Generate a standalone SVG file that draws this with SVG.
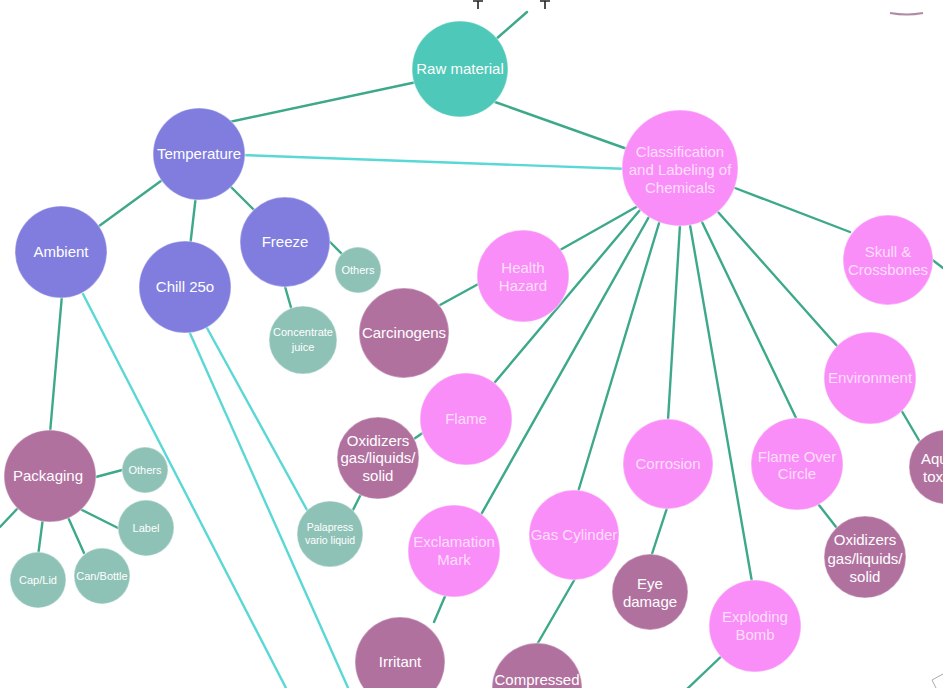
<svg xmlns="http://www.w3.org/2000/svg" width="943" height="688" viewBox="0 0 943 688">
<style>
.e{stroke:#3ea98a;stroke-width:2.4;fill:none;stroke-linecap:round}
.c{stroke:#5ad8d5;stroke-width:2.4;fill:none;stroke-linecap:round}
.teal{fill:#4ec8b8}
.pur{fill:#807ddf}
.pink{fill:#fa8ef8}
.mauve{fill:#b1719f}
.grey{fill:#8ec2b6}
circle{stroke:#ffffff;stroke-opacity:0.35;stroke-width:1.5}
text{font-family:"Liberation Sans",Arial,sans-serif;fill:#ffffff;text-anchor:middle;font-size:15px}
.pink ~ text{fill-opacity:0.72}
.s{font-size:11px}
.xs{font-size:10.5px}
</style>
<rect width="943" height="688" fill="#ffffff"/>
<g id="marks">
<path d="M473 1 H483 M478 1 V9 M540 1 H550 M545 1 V9" stroke="#222" stroke-width="1.6" fill="none"/>
<path d="M890 13 Q907 16 923 13" stroke="#9a6f92" stroke-width="2" fill="none" opacity="0.8"/>
<circle cx="938" cy="660" r="2.2" fill="none" stroke="#aaa" stroke-opacity="1" stroke-width="1"/>
<path d="M943 674 L932 680 L936 688" stroke="#aaa" stroke-width="1" fill="none"/>
</g>
<g id="connectors">
<line class="c" x1="240" y1="155" x2="630" y2="169"/>
<line class="c" x1="83" y1="294" x2="287" y2="690"/>
<line class="c" x1="189" y1="331" x2="349" y2="690"/>
<line class="c" x1="207" y1="328" x2="307" y2="510"/>
<line class="e" x1="440" y1="77" x2="220" y2="124"/>
<line class="e" x1="495" y1="102" x2="630" y2="150"/>
<line class="e" x1="495" y1="40" x2="527" y2="12"/>
<line class="e" x1="165" y1="178" x2="95" y2="229"/>
<line class="e" x1="196" y1="195" x2="190" y2="247"/>
<line class="e" x1="228" y1="184" x2="256" y2="212"/>
<line class="e" x1="326" y1="238" x2="346" y2="258"/>
<line class="e" x1="284" y1="283" x2="292" y2="311"/>
<line class="e" x1="62" y1="295" x2="50" y2="433"/>
<line class="e" x1="92" y1="478" x2="126" y2="469"/>
<line class="e" x1="80" y1="509" x2="122" y2="530"/>
<line class="e" x1="67" y1="515" x2="84" y2="553"/>
<line class="e" x1="43" y1="518" x2="38" y2="556"/>
<line class="e" x1="18" y1="508" x2="0" y2="527"/>
<line class="e" x1="482" y1="282" x2="440" y2="305"/>
<line class="e" x1="638" y1="206" x2="560" y2="250"/>
<line class="e" x1="640" y1="210" x2="490" y2="388"/>
<line class="e" x1="650" y1="215" x2="478" y2="520"/>
<line class="e" x1="660" y1="220" x2="578" y2="492"/>
<line class="e" x1="680" y1="225" x2="668" y2="420"/>
<line class="e" x1="690" y1="225" x2="752" y2="582"/>
<line class="e" x1="702" y1="222" x2="797" y2="420"/>
<line class="e" x1="718" y1="212" x2="838" y2="347"/>
<line class="e" x1="735" y1="188" x2="850" y2="232"/>
<line class="e" x1="930" y1="258" x2="943" y2="268"/>
<line class="e" x1="900" y1="408" x2="920" y2="442"/>
<line class="e" x1="815" y1="500" x2="840" y2="532"/>
<line class="e" x1="668" y1="505" x2="650" y2="560"/>
<line class="e" x1="424" y1="432" x2="408" y2="443"/>
<line class="e" x1="362" y1="492" x2="352" y2="512"/>
<line class="e" x1="446" y1="594" x2="434" y2="622"/>
<line class="e" x1="576" y1="577" x2="535" y2="648"/>
<line class="e" x1="728" y1="650" x2="686" y2="690"/>
</g>
<g id="raw-material"><circle class="teal" cx="460" cy="69" r="48"/><text x="460" y="74" font-size="14.5">Raw material</text></g>
<g id="temperature"><circle class="pur" cx="199" cy="154" r="46"/><text x="199" y="159">Temperature</text></g>
<g id="ambient"><circle class="pur" cx="61" cy="252" r="46"/><text x="61" y="257">Ambient</text></g>
<g id="chill"><circle class="pur" cx="185" cy="287" r="46"/><text x="185" y="292">Chill 25o</text></g>
<g id="freeze"><circle class="pur" cx="285" cy="242" r="45"/><text x="285" y="247">Freeze</text></g>
<g id="freeze-others"><circle class="grey" cx="358" cy="270" r="23"/><text class="s" x="358" y="274">Others</text></g>
<g id="concentrate-juice"><circle class="grey" cx="303" cy="340" r="34"/><text class="s" x="303" y="336">Concentrate</text><text class="s" x="303" y="351">juice</text></g>
<g id="packaging"><circle class="mauve" cx="50" cy="476" r="46"/><text x="48" y="481" font-size="15.5">Packaging</text></g>
<g id="packaging-others"><circle class="grey" cx="145" cy="470" r="23"/><text class="s" x="145" y="474">Others</text></g>
<g id="label"><circle class="grey" cx="146" cy="528" r="28"/><text class="s" x="146" y="532">Label</text></g>
<g id="can-bottle"><circle class="grey" cx="102" cy="576" r="28"/><text class="s" x="102" y="580">Can/Bottle</text></g>
<g id="cap-lid"><circle class="grey" cx="38" cy="580" r="28"/><text class="s" x="38" y="584">Cap/Lid</text></g>
<g id="palapress"><circle class="grey" cx="330" cy="534" r="33"/><text class="xs" x="330" y="531">Palapress</text><text class="xs" x="330" y="544">vario liquid</text></g>
<g id="classification"><circle class="pink" cx="680" cy="168" r="58"/><text x="680" y="157" font-size="14.5">Classification</text><text x="680" y="175" font-size="14.5">and Labeling of</text><text x="680" y="193" font-size="14.5">Chemicals</text></g>
<g id="health-hazard"><circle class="pink" cx="523" cy="276" r="46"/><text x="523" y="273">Health</text><text x="523" y="291">Hazard</text></g>
<g id="carcinogens"><circle class="mauve" cx="404" cy="333" r="45"/><text x="404" y="338" font-size="15.5">Carcinogens</text></g>
<g id="flame"><circle class="pink" cx="466" cy="419" r="46"/><text x="466" y="424">Flame</text></g>
<g id="oxidizers-left"><circle class="mauve" cx="378" cy="458" r="41"/><text x="378" y="446">Oxidizers</text><text x="378" y="463">gas/liquids/</text><text x="378" y="481">solid</text></g>
<g id="skull"><circle class="pink" cx="888" cy="260" r="45"/><text x="888" y="257">Skull &amp;</text><text x="888" y="275">Crossbones</text></g>
<g id="environment"><circle class="pink" cx="870" cy="378" r="46"/><text x="870" y="383">Environment</text></g>
<g id="aquatic"><circle class="mauve" cx="946" cy="467" r="37"/><text x="946" y="464">Aquatic</text><text x="946" y="482">toxicity</text></g>
<g id="corrosion"><circle class="pink" cx="668" cy="464" r="45"/><text x="668" y="469">Corrosion</text></g>
<g id="flame-over-circle"><circle class="pink" cx="797" cy="464" r="46"/><text x="797" y="462">Flame Over</text><text x="797" y="479">Circle</text></g>
<g id="oxidizers-right"><circle class="mauve" cx="865" cy="557" r="41"/><text x="865" y="545">Oxidizers</text><text x="865" y="564">gas/liquids/</text><text x="865" y="582">solid</text></g>
<g id="exclamation"><circle class="pink" cx="454" cy="551" r="46"/><text x="454" y="547">Exclamation</text><text x="454" y="565">Mark</text></g>
<g id="gas-cylinder"><circle class="pink" cx="574" cy="535" r="45"/><text x="574" y="540">Gas Cylinder</text></g>
<g id="eye-damage"><circle class="mauve" cx="650" cy="592" r="38"/><text x="650" y="589">Eye</text><text x="650" y="607">damage</text></g>
<g id="exploding-bomb"><circle class="pink" cx="755" cy="626" r="46"/><text x="755" y="622">Exploding</text><text x="755" y="640">Bomb</text></g>
<g id="irritant"><circle class="mauve" cx="400" cy="662" r="45"/><text x="400" y="667">Irritant</text></g>
<g id="compressed"><circle class="mauve" cx="537" cy="688" r="45"/><text x="537" y="685">Compressed</text></g>
</svg>
